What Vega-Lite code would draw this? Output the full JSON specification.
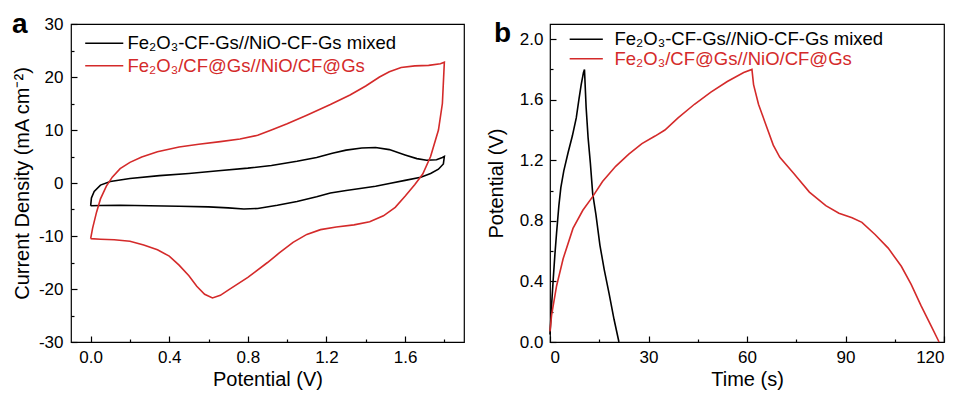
{
  "$schema": "https://vega.github.io/schema/vega-lite/v6.json",
  "padding": {"left": 11, "top": 10, "right": 4, "bottom": 2},
  "spacing": 20,
  "config": {
    "font": "Liberation Sans",
    "view": {"stroke": "#000000", "strokeWidth": 1.2},
    "axis": {
      "grid": false, "domain": false,
      "tickColor": "#000000", "tickWidth": 1.2,
      "labelColor": "#000000", "titleColor": "#000000",
      "labelFont": "Liberation Sans", "titleFont": "Liberation Sans",
      "labelFontSize": 17, "titleFontSize": 20, "titleFontWeight": "normal"
    },
    "legend": {"labelFont": "Liberation Sans"}
  },
  "datasets": {
    "cv": [
      {"sample": "Fe₂O₃-CF-Gs//NiO-CF-Gs mixed", "order": 0, "potential": 0.0, "current": -4.3},
      {"sample": "Fe₂O₃-CF-Gs//NiO-CF-Gs mixed", "order": 1, "potential": 0.004, "current": -2.8},
      {"sample": "Fe₂O₃-CF-Gs//NiO-CF-Gs mixed", "order": 2, "potential": 0.018, "current": -1.6},
      {"sample": "Fe₂O₃-CF-Gs//NiO-CF-Gs mixed", "order": 3, "potential": 0.05, "current": -0.4},
      {"sample": "Fe₂O₃-CF-Gs//NiO-CF-Gs mixed", "order": 4, "potential": 0.1, "current": 0.3},
      {"sample": "Fe₂O₃-CF-Gs//NiO-CF-Gs mixed", "order": 5, "potential": 0.2, "current": 0.85},
      {"sample": "Fe₂O₃-CF-Gs//NiO-CF-Gs mixed", "order": 6, "potential": 0.35, "current": 1.4},
      {"sample": "Fe₂O₃-CF-Gs//NiO-CF-Gs mixed", "order": 7, "potential": 0.5, "current": 1.8},
      {"sample": "Fe₂O₃-CF-Gs//NiO-CF-Gs mixed", "order": 8, "potential": 0.65, "current": 2.3},
      {"sample": "Fe₂O₃-CF-Gs//NiO-CF-Gs mixed", "order": 9, "potential": 0.8, "current": 2.8},
      {"sample": "Fe₂O₃-CF-Gs//NiO-CF-Gs mixed", "order": 10, "potential": 0.92, "current": 3.3},
      {"sample": "Fe₂O₃-CF-Gs//NiO-CF-Gs mixed", "order": 11, "potential": 1.05, "current": 4.1},
      {"sample": "Fe₂O₃-CF-Gs//NiO-CF-Gs mixed", "order": 12, "potential": 1.15, "current": 4.8},
      {"sample": "Fe₂O₃-CF-Gs//NiO-CF-Gs mixed", "order": 13, "potential": 1.23, "current": 5.6},
      {"sample": "Fe₂O₃-CF-Gs//NiO-CF-Gs mixed", "order": 14, "potential": 1.3, "current": 6.2},
      {"sample": "Fe₂O₃-CF-Gs//NiO-CF-Gs mixed", "order": 15, "potential": 1.38, "current": 6.6},
      {"sample": "Fe₂O₃-CF-Gs//NiO-CF-Gs mixed", "order": 16, "potential": 1.45, "current": 6.7},
      {"sample": "Fe₂O₃-CF-Gs//NiO-CF-Gs mixed", "order": 17, "potential": 1.52, "current": 6.3},
      {"sample": "Fe₂O₃-CF-Gs//NiO-CF-Gs mixed", "order": 18, "potential": 1.6, "current": 5.3},
      {"sample": "Fe₂O₃-CF-Gs//NiO-CF-Gs mixed", "order": 19, "potential": 1.66, "current": 4.6},
      {"sample": "Fe₂O₃-CF-Gs//NiO-CF-Gs mixed", "order": 20, "potential": 1.71, "current": 4.3},
      {"sample": "Fe₂O₃-CF-Gs//NiO-CF-Gs mixed", "order": 21, "potential": 1.76, "current": 4.4},
      {"sample": "Fe₂O₃-CF-Gs//NiO-CF-Gs mixed", "order": 22, "potential": 1.79, "current": 4.8},
      {"sample": "Fe₂O₃-CF-Gs//NiO-CF-Gs mixed", "order": 23, "potential": 1.8, "current": 5.0},
      {"sample": "Fe₂O₃-CF-Gs//NiO-CF-Gs mixed", "order": 24, "potential": 1.795, "current": 3.6},
      {"sample": "Fe₂O₃-CF-Gs//NiO-CF-Gs mixed", "order": 25, "potential": 1.77, "current": 2.6},
      {"sample": "Fe₂O₃-CF-Gs//NiO-CF-Gs mixed", "order": 26, "potential": 1.73, "current": 1.8},
      {"sample": "Fe₂O₃-CF-Gs//NiO-CF-Gs mixed", "order": 27, "potential": 1.68, "current": 1.1},
      {"sample": "Fe₂O₃-CF-Gs//NiO-CF-Gs mixed", "order": 28, "potential": 1.6, "current": 0.5},
      {"sample": "Fe₂O₃-CF-Gs//NiO-CF-Gs mixed", "order": 29, "potential": 1.52, "current": -0.1},
      {"sample": "Fe₂O₃-CF-Gs//NiO-CF-Gs mixed", "order": 30, "potential": 1.45, "current": -0.6},
      {"sample": "Fe₂O₃-CF-Gs//NiO-CF-Gs mixed", "order": 31, "potential": 1.38, "current": -1.0},
      {"sample": "Fe₂O₃-CF-Gs//NiO-CF-Gs mixed", "order": 32, "potential": 1.3, "current": -1.4},
      {"sample": "Fe₂O₃-CF-Gs//NiO-CF-Gs mixed", "order": 33, "potential": 1.22, "current": -1.9},
      {"sample": "Fe₂O₃-CF-Gs//NiO-CF-Gs mixed", "order": 34, "potential": 1.15, "current": -2.6},
      {"sample": "Fe₂O₃-CF-Gs//NiO-CF-Gs mixed", "order": 35, "potential": 1.05, "current": -3.5},
      {"sample": "Fe₂O₃-CF-Gs//NiO-CF-Gs mixed", "order": 36, "potential": 0.95, "current": -4.2},
      {"sample": "Fe₂O₃-CF-Gs//NiO-CF-Gs mixed", "order": 37, "potential": 0.85, "current": -4.8},
      {"sample": "Fe₂O₃-CF-Gs//NiO-CF-Gs mixed", "order": 38, "potential": 0.78, "current": -4.9},
      {"sample": "Fe₂O₃-CF-Gs//NiO-CF-Gs mixed", "order": 39, "potential": 0.7, "current": -4.7},
      {"sample": "Fe₂O₃-CF-Gs//NiO-CF-Gs mixed", "order": 40, "potential": 0.6, "current": -4.5},
      {"sample": "Fe₂O₃-CF-Gs//NiO-CF-Gs mixed", "order": 41, "potential": 0.45, "current": -4.4},
      {"sample": "Fe₂O₃-CF-Gs//NiO-CF-Gs mixed", "order": 42, "potential": 0.3, "current": -4.3},
      {"sample": "Fe₂O₃-CF-Gs//NiO-CF-Gs mixed", "order": 43, "potential": 0.15, "current": -4.2},
      {"sample": "Fe₂O₃-CF-Gs//NiO-CF-Gs mixed", "order": 44, "potential": 0.05, "current": -4.25},
      {"sample": "Fe₂O₃-CF-Gs//NiO-CF-Gs mixed", "order": 45, "potential": 0.0, "current": -4.3},
      {"sample": "Fe₂O₃/CF@Gs//NiO/CF@Gs", "order": 0, "potential": 0.0, "current": -10.5},
      {"sample": "Fe₂O₃/CF@Gs//NiO/CF@Gs", "order": 1, "potential": 0.01, "current": -8.5},
      {"sample": "Fe₂O₃/CF@Gs//NiO/CF@Gs", "order": 2, "potential": 0.03, "current": -5.5},
      {"sample": "Fe₂O₃/CF@Gs//NiO/CF@Gs", "order": 3, "potential": 0.05, "current": -3.0},
      {"sample": "Fe₂O₃/CF@Gs//NiO/CF@Gs", "order": 4, "potential": 0.08, "current": -0.6},
      {"sample": "Fe₂O₃/CF@Gs//NiO/CF@Gs", "order": 5, "potential": 0.11, "current": 1.1},
      {"sample": "Fe₂O₃/CF@Gs//NiO/CF@Gs", "order": 6, "potential": 0.15, "current": 2.7},
      {"sample": "Fe₂O₃/CF@Gs//NiO/CF@Gs", "order": 7, "potential": 0.2, "current": 3.9},
      {"sample": "Fe₂O₃/CF@Gs//NiO/CF@Gs", "order": 8, "potential": 0.26, "current": 4.9},
      {"sample": "Fe₂O₃/CF@Gs//NiO/CF@Gs", "order": 9, "potential": 0.34, "current": 5.9},
      {"sample": "Fe₂O₃/CF@Gs//NiO/CF@Gs", "order": 10, "potential": 0.45, "current": 6.8},
      {"sample": "Fe₂O₃/CF@Gs//NiO/CF@Gs", "order": 11, "potential": 0.55, "current": 7.3},
      {"sample": "Fe₂O₃/CF@Gs//NiO/CF@Gs", "order": 12, "potential": 0.66, "current": 7.8},
      {"sample": "Fe₂O₃/CF@Gs//NiO/CF@Gs", "order": 13, "potential": 0.76, "current": 8.3},
      {"sample": "Fe₂O₃/CF@Gs//NiO/CF@Gs", "order": 14, "potential": 0.85, "current": 9.0},
      {"sample": "Fe₂O₃/CF@Gs//NiO/CF@Gs", "order": 15, "potential": 0.92, "current": 10.0},
      {"sample": "Fe₂O₃/CF@Gs//NiO/CF@Gs", "order": 16, "potential": 1.0, "current": 11.2},
      {"sample": "Fe₂O₃/CF@Gs//NiO/CF@Gs", "order": 17, "potential": 1.1, "current": 12.8},
      {"sample": "Fe₂O₃/CF@Gs//NiO/CF@Gs", "order": 18, "potential": 1.22, "current": 14.8},
      {"sample": "Fe₂O₃/CF@Gs//NiO/CF@Gs", "order": 19, "potential": 1.32, "current": 16.6},
      {"sample": "Fe₂O₃/CF@Gs//NiO/CF@Gs", "order": 20, "potential": 1.4, "current": 18.3},
      {"sample": "Fe₂O₃/CF@Gs//NiO/CF@Gs", "order": 21, "potential": 1.47, "current": 20.0},
      {"sample": "Fe₂O₃/CF@Gs//NiO/CF@Gs", "order": 22, "potential": 1.52, "current": 21.0},
      {"sample": "Fe₂O₃/CF@Gs//NiO/CF@Gs", "order": 23, "potential": 1.58, "current": 21.8},
      {"sample": "Fe₂O₃/CF@Gs//NiO/CF@Gs", "order": 24, "potential": 1.65, "current": 22.1},
      {"sample": "Fe₂O₃/CF@Gs//NiO/CF@Gs", "order": 25, "potential": 1.72, "current": 22.2},
      {"sample": "Fe₂O₃/CF@Gs//NiO/CF@Gs", "order": 26, "potential": 1.78, "current": 22.5},
      {"sample": "Fe₂O₃/CF@Gs//NiO/CF@Gs", "order": 27, "potential": 1.8, "current": 22.8},
      {"sample": "Fe₂O₃/CF@Gs//NiO/CF@Gs", "order": 28, "potential": 1.79, "current": 15.0},
      {"sample": "Fe₂O₃/CF@Gs//NiO/CF@Gs", "order": 29, "potential": 1.77, "current": 10.0},
      {"sample": "Fe₂O₃/CF@Gs//NiO/CF@Gs", "order": 30, "potential": 1.73, "current": 5.0},
      {"sample": "Fe₂O₃/CF@Gs//NiO/CF@Gs", "order": 31, "potential": 1.69, "current": 1.7},
      {"sample": "Fe₂O₃/CF@Gs//NiO/CF@Gs", "order": 32, "potential": 1.65, "current": -0.3},
      {"sample": "Fe₂O₃/CF@Gs//NiO/CF@Gs", "order": 33, "potential": 1.6, "current": -2.5},
      {"sample": "Fe₂O₃/CF@Gs//NiO/CF@Gs", "order": 34, "potential": 1.55, "current": -4.6},
      {"sample": "Fe₂O₃/CF@Gs//NiO/CF@Gs", "order": 35, "potential": 1.49, "current": -6.2},
      {"sample": "Fe₂O₃/CF@Gs//NiO/CF@Gs", "order": 36, "potential": 1.42, "current": -7.3},
      {"sample": "Fe₂O₃/CF@Gs//NiO/CF@Gs", "order": 37, "potential": 1.34, "current": -7.9},
      {"sample": "Fe₂O₃/CF@Gs//NiO/CF@Gs", "order": 38, "potential": 1.25, "current": -8.3},
      {"sample": "Fe₂O₃/CF@Gs//NiO/CF@Gs", "order": 39, "potential": 1.17, "current": -8.8},
      {"sample": "Fe₂O₃/CF@Gs//NiO/CF@Gs", "order": 40, "potential": 1.1, "current": -9.7},
      {"sample": "Fe₂O₃/CF@Gs//NiO/CF@Gs", "order": 41, "potential": 1.03, "current": -11.2},
      {"sample": "Fe₂O₃/CF@Gs//NiO/CF@Gs", "order": 42, "potential": 0.96, "current": -13.2},
      {"sample": "Fe₂O₃/CF@Gs//NiO/CF@Gs", "order": 43, "potential": 0.9, "current": -15.0},
      {"sample": "Fe₂O₃/CF@Gs//NiO/CF@Gs", "order": 44, "potential": 0.8, "current": -17.8},
      {"sample": "Fe₂O₃/CF@Gs//NiO/CF@Gs", "order": 45, "potential": 0.7, "current": -20.2},
      {"sample": "Fe₂O₃/CF@Gs//NiO/CF@Gs", "order": 46, "potential": 0.66, "current": -21.2},
      {"sample": "Fe₂O₃/CF@Gs//NiO/CF@Gs", "order": 47, "potential": 0.62, "current": -21.7},
      {"sample": "Fe₂O₃/CF@Gs//NiO/CF@Gs", "order": 48, "potential": 0.58, "current": -21.0},
      {"sample": "Fe₂O₃/CF@Gs//NiO/CF@Gs", "order": 49, "potential": 0.54, "current": -19.5},
      {"sample": "Fe₂O₃/CF@Gs//NiO/CF@Gs", "order": 50, "potential": 0.5, "current": -17.5},
      {"sample": "Fe₂O₃/CF@Gs//NiO/CF@Gs", "order": 51, "potential": 0.45, "current": -15.5},
      {"sample": "Fe₂O₃/CF@Gs//NiO/CF@Gs", "order": 52, "potential": 0.4, "current": -13.8},
      {"sample": "Fe₂O₃/CF@Gs//NiO/CF@Gs", "order": 53, "potential": 0.34, "current": -12.6},
      {"sample": "Fe₂O₃/CF@Gs//NiO/CF@Gs", "order": 54, "potential": 0.27, "current": -11.7},
      {"sample": "Fe₂O₃/CF@Gs//NiO/CF@Gs", "order": 55, "potential": 0.2, "current": -11.0},
      {"sample": "Fe₂O₃/CF@Gs//NiO/CF@Gs", "order": 56, "potential": 0.12, "current": -10.7},
      {"sample": "Fe₂O₃/CF@Gs//NiO/CF@Gs", "order": 57, "potential": 0.05, "current": -10.6},
      {"sample": "Fe₂O₃/CF@Gs//NiO/CF@Gs", "order": 58, "potential": 0.0, "current": -10.5}
    ],
    "gcd": [
      {"sample": "Fe₂O₃-CF-Gs//NiO-CF-Gs mixed", "order": 0, "time": 0, "potential": 0.05},
      {"sample": "Fe₂O₃-CF-Gs//NiO-CF-Gs mixed", "order": 1, "time": 0.5, "potential": 0.25},
      {"sample": "Fe₂O₃-CF-Gs//NiO-CF-Gs mixed", "order": 2, "time": 1, "potential": 0.42},
      {"sample": "Fe₂O₃-CF-Gs//NiO-CF-Gs mixed", "order": 3, "time": 1.5, "potential": 0.58},
      {"sample": "Fe₂O₃-CF-Gs//NiO-CF-Gs mixed", "order": 4, "time": 2, "potential": 0.72},
      {"sample": "Fe₂O₃-CF-Gs//NiO-CF-Gs mixed", "order": 5, "time": 2.7, "potential": 0.9},
      {"sample": "Fe₂O₃-CF-Gs//NiO-CF-Gs mixed", "order": 6, "time": 3.3, "potential": 1.02},
      {"sample": "Fe₂O₃-CF-Gs//NiO-CF-Gs mixed", "order": 7, "time": 4.2, "potential": 1.13},
      {"sample": "Fe₂O₃-CF-Gs//NiO-CF-Gs mixed", "order": 8, "time": 5.5, "potential": 1.25},
      {"sample": "Fe₂O₃-CF-Gs//NiO-CF-Gs mixed", "order": 9, "time": 6.8, "potential": 1.36},
      {"sample": "Fe₂O₃-CF-Gs//NiO-CF-Gs mixed", "order": 10, "time": 8, "potential": 1.48},
      {"sample": "Fe₂O₃-CF-Gs//NiO-CF-Gs mixed", "order": 11, "time": 8.8, "potential": 1.6},
      {"sample": "Fe₂O₃-CF-Gs//NiO-CF-Gs mixed", "order": 12, "time": 9.5, "potential": 1.7},
      {"sample": "Fe₂O₃-CF-Gs//NiO-CF-Gs mixed", "order": 13, "time": 10.2, "potential": 1.78},
      {"sample": "Fe₂O₃-CF-Gs//NiO-CF-Gs mixed", "order": 14, "time": 10.5, "potential": 1.8},
      {"sample": "Fe₂O₃-CF-Gs//NiO-CF-Gs mixed", "order": 15, "time": 11, "potential": 1.55},
      {"sample": "Fe₂O₃-CF-Gs//NiO-CF-Gs mixed", "order": 16, "time": 11.6, "potential": 1.35},
      {"sample": "Fe₂O₃-CF-Gs//NiO-CF-Gs mixed", "order": 17, "time": 12.3, "potential": 1.18},
      {"sample": "Fe₂O₃-CF-Gs//NiO-CF-Gs mixed", "order": 18, "time": 13, "potential": 0.98},
      {"sample": "Fe₂O₃-CF-Gs//NiO-CF-Gs mixed", "order": 19, "time": 14, "potential": 0.84},
      {"sample": "Fe₂O₃-CF-Gs//NiO-CF-Gs mixed", "order": 20, "time": 15.2, "potential": 0.64},
      {"sample": "Fe₂O₃-CF-Gs//NiO-CF-Gs mixed", "order": 21, "time": 16.5, "potential": 0.48},
      {"sample": "Fe₂O₃-CF-Gs//NiO-CF-Gs mixed", "order": 22, "time": 18, "potential": 0.32},
      {"sample": "Fe₂O₃-CF-Gs//NiO-CF-Gs mixed", "order": 23, "time": 19.5, "potential": 0.15},
      {"sample": "Fe₂O₃-CF-Gs//NiO-CF-Gs mixed", "order": 24, "time": 21, "potential": 0.0},
      {"sample": "Fe₂O₃/CF@Gs//NiO/CF@Gs", "order": 0, "time": 0, "potential": 0.07},
      {"sample": "Fe₂O₃/CF@Gs//NiO/CF@Gs", "order": 1, "time": 0.5, "potential": 0.18},
      {"sample": "Fe₂O₃/CF@Gs//NiO/CF@Gs", "order": 2, "time": 2, "potential": 0.37},
      {"sample": "Fe₂O₃/CF@Gs//NiO/CF@Gs", "order": 3, "time": 4, "potential": 0.55},
      {"sample": "Fe₂O₃/CF@Gs//NiO/CF@Gs", "order": 4, "time": 7, "potential": 0.75},
      {"sample": "Fe₂O₃/CF@Gs//NiO/CF@Gs", "order": 5, "time": 10, "potential": 0.87},
      {"sample": "Fe₂O₃/CF@Gs//NiO/CF@Gs", "order": 6, "time": 13, "potential": 0.96},
      {"sample": "Fe₂O₃/CF@Gs//NiO/CF@Gs", "order": 7, "time": 16, "potential": 1.06},
      {"sample": "Fe₂O₃/CF@Gs//NiO/CF@Gs", "order": 8, "time": 20, "potential": 1.16},
      {"sample": "Fe₂O₃/CF@Gs//NiO/CF@Gs", "order": 9, "time": 24, "potential": 1.24},
      {"sample": "Fe₂O₃/CF@Gs//NiO/CF@Gs", "order": 10, "time": 28, "potential": 1.31},
      {"sample": "Fe₂O₃/CF@Gs//NiO/CF@Gs", "order": 11, "time": 32, "potential": 1.36},
      {"sample": "Fe₂O₃/CF@Gs//NiO/CF@Gs", "order": 12, "time": 35, "potential": 1.4},
      {"sample": "Fe₂O₃/CF@Gs//NiO/CF@Gs", "order": 13, "time": 39, "potential": 1.48},
      {"sample": "Fe₂O₃/CF@Gs//NiO/CF@Gs", "order": 14, "time": 44, "potential": 1.57},
      {"sample": "Fe₂O₃/CF@Gs//NiO/CF@Gs", "order": 15, "time": 49, "potential": 1.65},
      {"sample": "Fe₂O₃/CF@Gs//NiO/CF@Gs", "order": 16, "time": 54, "potential": 1.72},
      {"sample": "Fe₂O₃/CF@Gs//NiO/CF@Gs", "order": 17, "time": 59, "potential": 1.78},
      {"sample": "Fe₂O₃/CF@Gs//NiO/CF@Gs", "order": 18, "time": 61.5, "potential": 1.8},
      {"sample": "Fe₂O₃/CF@Gs//NiO/CF@Gs", "order": 19, "time": 62, "potential": 1.7},
      {"sample": "Fe₂O₃/CF@Gs//NiO/CF@Gs", "order": 20, "time": 63.5, "potential": 1.57},
      {"sample": "Fe₂O₃/CF@Gs//NiO/CF@Gs", "order": 21, "time": 65.5, "potential": 1.45},
      {"sample": "Fe₂O₃/CF@Gs//NiO/CF@Gs", "order": 22, "time": 68, "potential": 1.3},
      {"sample": "Fe₂O₃/CF@Gs//NiO/CF@Gs", "order": 23, "time": 70, "potential": 1.22},
      {"sample": "Fe₂O₃/CF@Gs//NiO/CF@Gs", "order": 24, "time": 74, "potential": 1.12},
      {"sample": "Fe₂O₃/CF@Gs//NiO/CF@Gs", "order": 25, "time": 79, "potential": 0.99},
      {"sample": "Fe₂O₃/CF@Gs//NiO/CF@Gs", "order": 26, "time": 84, "potential": 0.9},
      {"sample": "Fe₂O₃/CF@Gs//NiO/CF@Gs", "order": 27, "time": 88, "potential": 0.85},
      {"sample": "Fe₂O₃/CF@Gs//NiO/CF@Gs", "order": 28, "time": 92, "potential": 0.82},
      {"sample": "Fe₂O₃/CF@Gs//NiO/CF@Gs", "order": 29, "time": 95, "potential": 0.79},
      {"sample": "Fe₂O₃/CF@Gs//NiO/CF@Gs", "order": 30, "time": 99, "potential": 0.71},
      {"sample": "Fe₂O₃/CF@Gs//NiO/CF@Gs", "order": 31, "time": 103, "potential": 0.62},
      {"sample": "Fe₂O₃/CF@Gs//NiO/CF@Gs", "order": 32, "time": 107, "potential": 0.5},
      {"sample": "Fe₂O₃/CF@Gs//NiO/CF@Gs", "order": 33, "time": 110, "potential": 0.38},
      {"sample": "Fe₂O₃/CF@Gs//NiO/CF@Gs", "order": 34, "time": 113, "potential": 0.24},
      {"sample": "Fe₂O₃/CF@Gs//NiO/CF@Gs", "order": 35, "time": 116, "potential": 0.11},
      {"sample": "Fe₂O₃/CF@Gs//NiO/CF@Gs", "order": 36, "time": 118.5, "potential": 0.0}
    ]
  },
  "hconcat": [
    {
      "width": 393,
      "height": 318,
      "title": {"text": "a", "anchor": "start", "frame": "group", "fontSize": 28, "fontWeight": "bold", "color": "#000000", "font": "Liberation Sans", "dx": -59, "dy": 24, "offset": 0},
      "resolve": {"axis": {"x": "independent", "y": "independent"}},
      "layer": [
        {
          "data": {"name": "cv"},
          "mark": {"type": "line", "strokeWidth": 1.6},
          "encoding": {
            "x": {
              "field": "potential", "type": "quantitative",
              "scale": {"domain": [-0.1, 1.9], "nice": false, "zero": false},
              "axis": {
                "title": "Potential (V)", "orient": "bottom",
                "values": [0, 0.4, 0.8, 1.2, 1.6], "format": ".1f",
                "tickSize": -6, "labelPadding": 13, "titlePadding": 4
              }
            },
            "y": {
              "field": "current", "type": "quantitative",
              "scale": {"domain": [-30, 30], "nice": false, "zero": false},
              "axis": {
                "title": "Current Density (mA cm⁻²)", "orient": "left",
                "values": [-30, -20, -10, 0, 10, 20, 30],
                "labelExpr": "replace(datum.label, '−', '-')",
                "tickSize": -6, "labelPadding": 14, "titlePadding": 6
              }
            },
            "color": {
              "field": "sample", "type": "nominal",
              "scale": {"domain": ["Fe₂O₃-CF-Gs//NiO-CF-Gs mixed", "Fe₂O₃/CF@Gs//NiO/CF@Gs"], "range": ["#000000", "#d42a2a"]},
              "legend": {
                "title": null, "orient": "none", "legendX": 24, "legendY": 10,
                "symbolType": "M-5,0H5", "symbolSize": 58, "symbolStrokeWidth": 1.6,
                "labelFontSize": 18.5, "labelOffset": 14, "rowPadding": 3.5, "padding": 0, "labelLimit": 0,
                "labelColor": {"expr": "datum.index == 1 ? '#d42a2a' : '#000000'"}
              }
            },
            "order": {"field": "order", "type": "quantitative"}
          }
        },
        {
          "mark": {"type": "text", "align": "left", "baseline": "alphabetic", "fontSize": 20.5, "font": "Liberation Sans", "color": "#000000"},
          "encoding": {
            "x": {"datum": 1.3, "type": "quantitative",
              "axis": {"orient": "bottom", "values": [0.2, 0.6, 1.0, 1.4, 1.8], "tickSize": -3, "labels": false, "title": null, "domain": false}},
            "y": {"datum": -24.3, "type": "quantitative",
              "axis": {"orient": "left", "values": [-25, -15, -5, 5, 15, 25], "tickSize": -3, "labels": false, "title": null, "domain": false}},
            "text": {"value": "100 mV s⁻¹"}
          }
        }
      ]
    },
    {
      "width": 394,
      "height": 318,
      "title": {"text": "b", "anchor": "start", "frame": "group", "fontSize": 28, "fontWeight": "bold", "color": "#000000", "font": "Liberation Sans", "dx": -56, "dy": 24, "offset": 0},
      "resolve": {"axis": {"x": "independent", "y": "independent"}},
      "layer": [
        {
          "data": {"name": "gcd"},
          "mark": {"type": "line", "strokeWidth": 1.6},
          "encoding": {
            "x": {
              "field": "time", "type": "quantitative",
              "scale": {"domain": [0, 120], "nice": false},
              "axis": {
                "title": "Time (s)", "orient": "bottom",
                "values": [0, 30, 60, 90, 120],
                "tickSize": -6, "labelPadding": 13, "titlePadding": 4
              }
            },
            "y": {
              "field": "potential", "type": "quantitative",
              "scale": {"domain": [0, 2.1], "nice": false},
              "axis": {
                "title": "Potential (V)", "orient": "left",
                "values": [0, 0.4, 0.8, 1.2, 1.6, 2.0], "format": ".1f",
                "tickSize": -6, "labelPadding": 13, "titlePadding": 13
              }
            },
            "color": {
              "field": "sample", "type": "nominal",
              "scale": {"domain": ["Fe₂O₃-CF-Gs//NiO-CF-Gs mixed", "Fe₂O₃/CF@Gs//NiO/CF@Gs"], "range": ["#000000", "#d42a2a"]},
              "legend": {
                "title": null, "orient": "none", "legendX": 27, "legendY": 6,
                "symbolType": "M-5,0H5", "symbolSize": 44, "symbolStrokeWidth": 1.6,
                "labelFontSize": 18.5, "labelOffset": 19, "rowPadding": 0.5, "padding": 0, "labelLimit": 0,
                "labelColor": {"expr": "datum.index == 1 ? '#d42a2a' : '#000000'"}
              }
            },
            "order": {"field": "order", "type": "quantitative"}
          }
        },
        {
          "mark": {"type": "text", "align": "left", "baseline": "alphabetic", "fontSize": 20.5, "font": "Liberation Sans", "color": "#000000"},
          "encoding": {
            "x": {"datum": 79, "type": "quantitative",
              "axis": {"orient": "bottom", "values": [15, 45, 75, 105], "tickSize": -3, "labels": false, "title": null, "domain": false}},
            "y": {"datum": 0.22, "type": "quantitative",
              "axis": {"orient": "left", "values": [0.2, 0.6, 1.0, 1.4, 1.8], "tickSize": -3, "labels": false, "title": null, "domain": false}},
            "text": {"value": "5 mA cm⁻²"}
          }
        }
      ]
    }
  ],
  "resolve": {"scale": {"color": "independent"}}
}
